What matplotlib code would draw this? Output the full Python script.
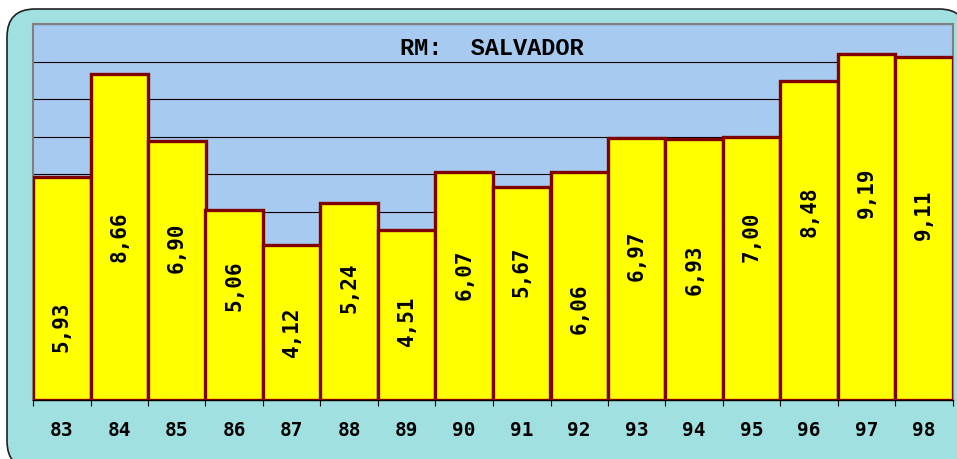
import numpy as np
import matplotlib
matplotlib.use("Agg")
import matplotlib.pyplot as plt
from matplotlib.patches import FancyBboxPatch
from matplotlib.ticker import MultipleLocator

# ---- data ----
years = ["83", "84", "85", "86", "87", "88", "89", "90",
         "91", "92", "93", "94", "95", "96", "97", "98"]
values = [5.93, 8.66, 6.90, 5.06, 4.12, 5.24, 4.51, 6.07,
          5.67, 6.06, 6.97, 6.93, 7.00, 8.48, 9.19, 9.11]
title = "RM:  SALVADOR"

# label placement (fraction of bar height) - layout only
label_frac = [0.33, 0.50, 0.585, 0.60, 0.44, 0.57, 0.47, 0.55,
              0.60, 0.40, 0.55, 0.50, 0.62, 0.59, 0.60, 0.54]

W, H = 957, 459
fig = plt.figure(figsize=(W / 100, H / 100), dpi=100)
fig.patch.set_facecolor("white")

bg = FancyBboxPatch((0.07, -0.10), 9.60, 4.60,
                    boxstyle="round,pad=0,rounding_size=0.28",
                    transform=fig.dpi_scale_trans,
                    facecolor="#a0e0e0", edgecolor="#202020", lw=1.2,
                    zorder=-10)
fig.patches.append(bg)

ax = fig.add_axes([33 / W, 1 - 400 / H, 920 / W, 376 / H])
ax.set_zorder(5)
ax.set_facecolor("#a6caf0")

x = np.arange(len(values))
ax.bar(x, values, width=1.0, color="#ffff00", edgecolor="#800000",
       linewidth=2.4, zorder=3)

ax.set_xlim(-0.5, len(values) - 0.5)
ax.set_ylim(0, 10)
ax.yaxis.set_major_locator(MultipleLocator(1))
ax.tick_params(axis="y", left=False, labelleft=False)
ax.grid(axis="y", color="black", lw=0.8, zorder=0)
ax.set_axisbelow(True)

ax.set_xticks(x)
ax.set_xticklabels(years, fontfamily="DejaVu Sans Mono", fontweight="bold",
                   fontsize=14)
ax.tick_params(axis="x", which="major", length=0, pad=15)
ax.set_xticks(np.arange(-0.5, len(values), 1), minor=True)
ax.tick_params(axis="x", which="minor", length=4.5, width=0.8,
               color="black", direction="out")

for s in ["top", "left", "right"]:
    ax.spines[s].set_color("#808080")
    ax.spines[s].set_linewidth(1.5)
ax.spines["bottom"].set_color("black")
ax.spines["bottom"].set_linewidth(1.0)

for i, v in enumerate(values):
    ax.text(i, v * label_frac[i], f"{v:.2f}".replace(".", ","),
            rotation=90, ha="center", va="center",
            fontfamily="DejaVu Sans Mono", fontweight="bold",
            fontsize=15, zorder=4)

ax.text(0.499, 0.936, title, transform=ax.transAxes, ha="center",
        va="center", fontfamily="Liberation Mono", fontweight="bold",
        fontsize=17, zorder=5)

fig.savefig("out.png", dpi=100)
